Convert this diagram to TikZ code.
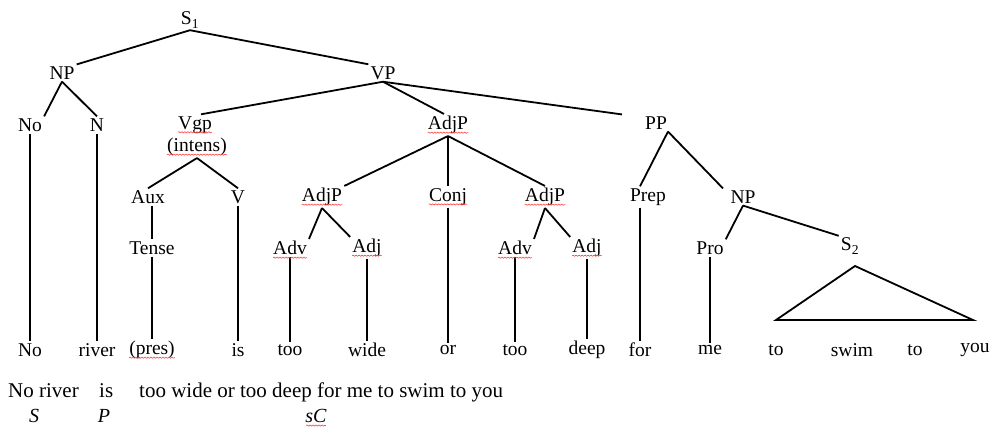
\documentclass[tikz,border=0pt]{standalone}
\usepackage{fontspec}
\setmainfont{Liberation Serif}
\usetikzlibrary{decorations.pathmorphing}
\begin{document}
\begin{tikzpicture}[x=1pt,y=-1pt,
  lab/.style={font=\fontsize{19.5}{22}\selectfont, inner sep=2pt},
  sent/.style={font=\fontsize{21}{24}\selectfont, inner sep=0pt, anchor=base west},
  role/.style={font=\fontsize{20}{22}\selectfont\itshape, inner sep=1pt},
  br/.style={line width=1.8pt},
  sq/.style={red!75, line width=0.6pt, decorate, decoration={snake,amplitude=0.6pt,segment length=3pt}}]
\useasboundingbox[fill=white] (0,0) rectangle (992,434);
% level 0-1
\node[lab] (S1) at (190,20) {S\textsubscript{1}};
\node[lab] (NP) at (62,73) {NP};
\node[lab] (VP) at (383,73) {VP};
% level 2
\node[lab] (No) at (30,125) {No};
\node[lab] (N) at (97,125) {N};
\node[lab] (Vgp) at (195,125) {Vgp};
\node[lab] (intens) at (197,147) {(intens)};
\node[lab] (AdjP) at (448,125) {AdjP};
\node[lab] (PP) at (656,123) {PP};
% level 3
\node[lab] (Aux) at (148,197) {Aux};
\node[lab] (V) at (238,197) {V};
\node[lab] (AdjPl) at (322,197) {AdjP};
\node[lab] (Conj) at (448,197) {Conj};
\node[lab] (AdjPr) at (545,197) {AdjP};
\node[lab] (Prep) at (648,197) {Prep};
\node[lab] (NPb) at (743,197) {NP};
% level 4
\node[lab] (Tense) at (152,248) {Tense};
\node[lab] (Adv1) at (290,248) {Adv};
\node[lab] (Adj1) at (367,248) {Adj};
\node[lab] (Adv2) at (515,248) {Adv};
\node[lab] (Adj2) at (587,248) {Adj};
\node[lab] (Pro) at (710,248) {Pro};
\node[lab] (S2) at (850,246) {S\textsubscript{2}};
% leaves
\node[lab] (wNo) at (30,350) {No};
\node[lab] (wriver) at (97,350) {river};
\node[lab] (wpres) at (152,350) {(pres)};
\node[lab] (wis) at (238,350) {is};
\node[lab] (wtoo1) at (290,350) {too};
\node[lab] (wwide) at (367,350) {wide};
\node[lab] (wor) at (448,350) {or};
\node[lab] (wtoo2) at (515,350) {too};
\node[lab] (wdeep) at (587,350) {deep};
\node[lab] (wfor) at (640,350) {for};
\node[lab] (wme) at (710,350) {me};
\node[lab] (wto1) at (776,350) {to};
\node[lab] (wswim) at (852,350) {swim};
\node[lab] (wto2) at (915,350) {to};
\node[lab] (wyou) at (975,350) {you};
% bottom sentence
\node[sent] (sa) at (8,397) {No river};
\node[sent] (sb) at (99,397) {is};
\node[sent] (sc) at (139,397) {too wide or too deep for me to swim to you};
\node[role] (lS) at (34,416) {S};
\node[role] (lP) at (104,416) {P};
\node[role] (lsC) at (316,416) {sC};
% triangle corners
\coordinate (tl) at (776,320);
\coordinate (tr) at (973,320);
\coordinate (tap) at (855,266);
% branches
\draw[br] (S1.south) -- (NP.north east);
\draw[br] (S1.south) -- (VP.north west);
\draw[br] (NP.south) -- (No.north east);
\draw[br] (NP.south) -- (N.north);
\draw[br] (VP.south) -- ([xshift=6pt]Vgp.north);
\draw[br] (VP.south) -- ([xshift=-4pt]AdjP.north);
\draw[br] (VP.south) -- ([xshift=-34pt]PP.north);
\draw[br] ([xshift=12pt]PP.south) -- ([xshift=-8pt]Prep.north);
\draw[br] ([xshift=12pt]PP.south) -- ([xshift=-20pt]NPb.north);
\draw[br] (intens.south) -- (Aux.north);
\draw[br] (intens.south) -- (V.north);
\draw[br] (AdjP.south) -- (AdjPl.north east);
\draw[br] (AdjP.south) -- (Conj.north);
\draw[br] (AdjP.south) -- (AdjPr.north);
\draw[br] (Aux.south -| Tense.north) -- (Tense.north);
\draw[br] (AdjPl.south) -- (Adv1.north east);
\draw[br] (AdjPl.south) -- (Adj1.north west);
\draw[br] (AdjPr.south) -- (Adv2.north east);
\draw[br] (AdjPr.south) -- (Adj2.north west);
\draw[br] (NPb.south) -- (Pro.north east);
\draw[br] (NPb.south) -- (S2.north west);
% verticals to leaves
\draw[br] (No.south) -- (wNo.north);
\draw[br] (N.south) -- (wriver.north);
\draw[br] (Tense.south) -- (wpres.north);
\draw[br] (V.south) -- (wis.north);
\draw[br] (Adv1.south) -- (wtoo1.north);
\draw[br] (Adj1.south) -- (wwide.north);
\draw[br] (Conj.south) -- (wor.north);
\draw[br] (Adv2.south) -- (wtoo2.north);
\draw[br] (Adj2.south) -- (wdeep.north);
\draw[br] (Prep.south -| wfor.north) -- (wfor.north);
\draw[br] (Pro.south) -- (wme.north);
\draw[br] (tap) -- (tl) -- (tr) -- cycle;
% spell-check squiggles
\foreach \n in {Vgp,intens,AdjP,AdjPl,Conj,AdjPr,Adv1,Adj1,Adv2,Adj2,wpres,lsC}
  \draw[sq] ([yshift=-3pt,xshift=2pt]\n.base west) -- ([yshift=-3pt,xshift=-2pt]\n.base east);
\end{tikzpicture}
\end{document}
